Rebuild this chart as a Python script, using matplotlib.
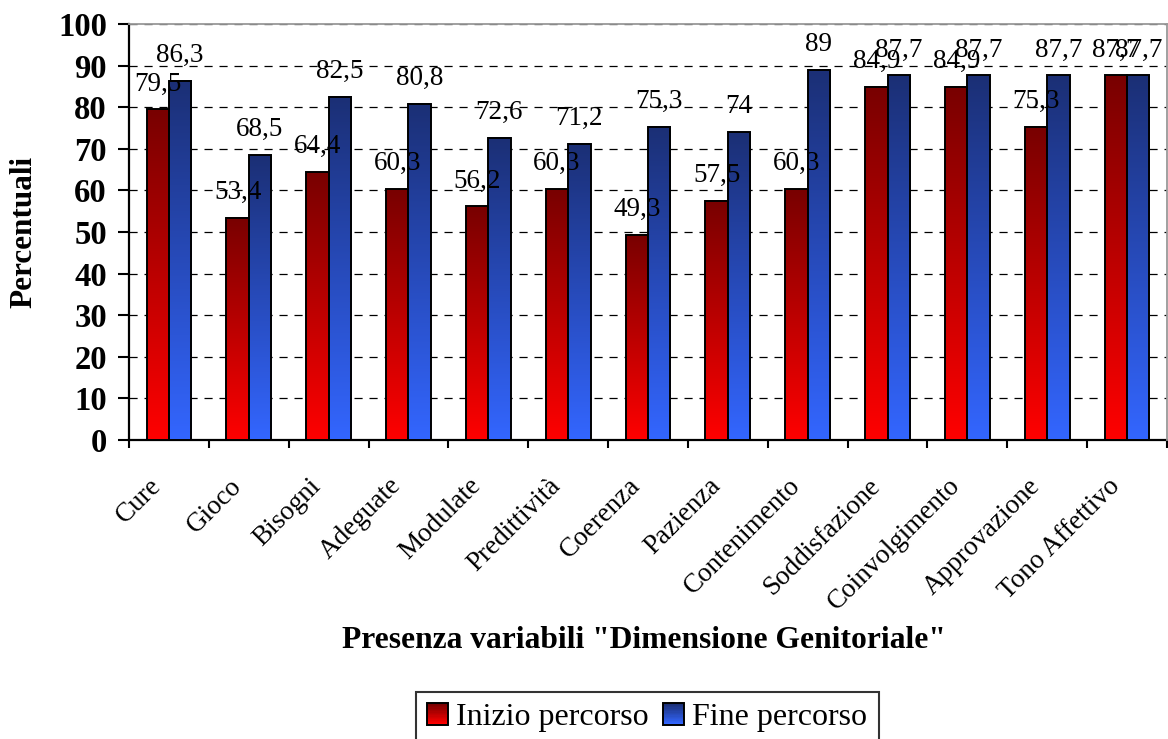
import numpy as np
import matplotlib
matplotlib.use('Agg')
import matplotlib.pyplot as plt
import matplotlib.transforms as mtransforms
from matplotlib.colors import LinearSegmentedColormap
from matplotlib.patches import Rectangle
from matplotlib.legend_handler import HandlerBase

plt.rcParams['font.family'] = ['Liberation Serif', 'DejaVu Serif']

categories = ['Cure', 'Gioco', 'Bisogni', 'Adeguate', 'Modulate', 'Predittività',
              'Coerenza', 'Pazienza', 'Contenimento', 'Soddisfazione',
              'Coinvolgimento', 'Approvazione', 'Tono Affettivo']
inizio = [79.5, 53.4, 64.4, 60.3, 56.2, 60.3, 49.3, 57.5, 60.3, 84.9, 84.9, 75.3, 87.7]
fine = [86.3, 68.5, 82.5, 80.8, 72.6, 71.2, 75.3, 74, 89, 87.7, 87.7, 87.7, 87.7]
series_names = ['Inizio percorso', 'Fine percorso']
yticks = [0, 10, 20, 30, 40, 50, 60, 70, 80, 90, 100]

red_cmap = LinearSegmentedColormap.from_list('red_grad', ['#FF0000', '#780000'])
blue_cmap = LinearSegmentedColormap.from_list('blue_grad', ['#3366FF', '#1B2F75'])

W, H = 1168, 739
fig = plt.figure(figsize=(W / 100, H / 100), dpi=100)
ax = fig.add_axes([129 / W, 1 - 440 / H, (1167 - 129) / W, (440 - 24) / H])

x = np.arange(len(categories))
bw = 0.28
bars_r = ax.bar(x - bw / 2, inizio, bw, facecolor='none', edgecolor='black', lw=1.4, zorder=4)
bars_b = ax.bar(x + bw / 2, fine, bw, facecolor='none', edgecolor='black', lw=1.4, zorder=4)

grad = np.linspace(0, 1, 256).reshape(-1, 1)
for bars, cmap in ((bars_r, red_cmap), (bars_b, blue_cmap)):
    for p in bars.patches:
        x0, y0 = p.get_x(), p.get_y()
        ax.imshow(grad, extent=[x0, x0 + p.get_width(), y0, y0 + p.get_height()],
                  origin='lower', aspect='auto', cmap=cmap, zorder=3, interpolation='bilinear')

def fmt(v):
    return f"{v:g}".replace('.', ',')

for bars, vals in ((bars_r, inizio), (bars_b, fine)):
    for p, v in zip(bars.patches, vals):
        ax.annotate(fmt(v), (p.get_x() + p.get_width() / 2, p.get_height()),
                    xytext=(0, 13.5), textcoords='offset points',
                    ha='center', va='baseline', fontsize=19.5, zorder=6)

ax.set_xlim(-0.5, len(categories) - 0.5)
ax.set_ylim(0, 100)
ax.set_yticks(yticks)
ax.set_yticklabels([str(t) for t in yticks], fontsize=23.5, fontweight='bold')
ax.tick_params(axis='y', direction='out', length=8, width=1.5, pad=8)

ax.set_xticks(np.arange(len(categories) + 1) - 0.5)
ax.set_xticklabels([])
ax.tick_params(axis='x', which='major', direction='out', length=6, width=1.5)
ax.set_xticks(x, minor=True)
ax.set_xticklabels(categories, minor=True, rotation=45, ha='right',
                   rotation_mode='anchor', fontsize=19.5)
ax.tick_params(axis='x', which='minor', length=0, pad=24)
shift = mtransforms.ScaledTranslation(-20 / 100, 0, fig.dpi_scale_trans)
for lab in ax.get_xticklabels(minor=True):
    lab.set_transform(lab.get_transform() + shift)

ax.grid(axis='y', color='black', linestyle=(0, (6.5, 5.5)), lw=0.9, zorder=1)
ax.set_axisbelow(True)

for s in ('left', 'bottom'):
    ax.spines[s].set_linewidth(1.6)
    ax.spines[s].set_color('black')
for s in ('top', 'right'):
    ax.spines[s].set_linewidth(1.3)
    ax.spines[s].set_color('#999999')
    ax.spines[s].set_zorder(5)

fig.text(24 / W, 1 - 232 / H, 'Percentuali', rotation=90, ha='center', va='center',
         fontsize=22.5, fontweight='bold')
fig.text(644 / W, 1 - 640 / H, 'Presenza variabili "Dimensione Genitoriale"',
         ha='center', va='center', fontsize=22.7, fontweight='bold')


class GradHandler(HandlerBase):
    def __init__(self, cmap):
        super().__init__()
        self.cmap = cmap

    def create_artists(self, legend, orig_handle, xdescent, ydescent, width, height,
                       fontsize, trans):
        size = min(width, height)
        x0 = -xdescent + (width - size) / 2
        y0 = -ydescent + (height - size) / 2
        n = 16
        arts = []
        for i in range(n):
            arts.append(Rectangle((x0, y0 + size * i / n), size, size / n + 0.3,
                                  facecolor=self.cmap(i / (n - 1)), edgecolor='none',
                                  transform=trans))
        arts.append(Rectangle((x0, y0), size, size, facecolor='none', edgecolor='black',
                              lw=1.4, transform=trans))
        return arts


h1 = Rectangle((0, 0), 1, 1)
h2 = Rectangle((0, 0), 1, 1)
leg = fig.legend([h1, h2], series_names, loc='upper left',
                 bbox_to_anchor=(416 / W, 1 - 692 / H), ncol=2, fontsize=23,
                 handler_map={h1: GradHandler(red_cmap), h2: GradHandler(blue_cmap)},
                 handlelength=0.66, handleheight=0.66, handletextpad=0.25,
                 columnspacing=0.45, borderpad=0.35, borderaxespad=0,
                 fancybox=False, frameon=True)
leg.get_frame().set_edgecolor('black')
leg.get_frame().set_linewidth(1.5)

fig.savefig('out.png', dpi=100)
